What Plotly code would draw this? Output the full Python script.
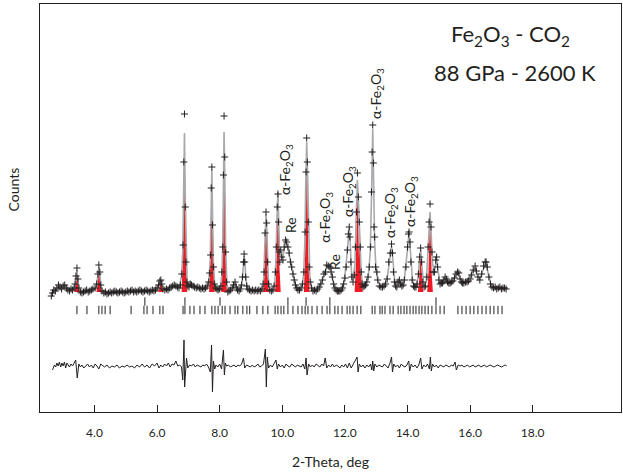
import plotly.graph_objects as go

# ---------------- data (2-theta in deg, intensity in arbitrary counts) ----------------
observed = [
    (2.62, 116), (2.66, 119), (2.70, 122), (2.75, 121), (2.80, 124), (2.85, 127), (2.90, 125), (2.95, 123),
    (3.00, 126), (3.05, 127), (3.10, 124), (3.15, 122), (3.20, 121), (3.25, 123), (3.30, 122), (3.35, 124),
    (3.38, 128), (3.41, 136), (3.44, 144), (3.47, 133), (3.50, 124), (3.55, 120), (3.60, 119), (3.65, 120),
    (3.70, 121), (3.75, 122), (3.80, 120), (3.85, 121), (3.90, 122), (3.95, 123),
    (4.02, 124), (4.07, 128), (4.11, 138), (4.14, 147), (4.17, 140), (4.20, 127), (4.24, 121), (4.30, 119),
    (4.35, 120), (4.40, 118), (4.45, 119), (4.50, 120), (4.55, 119), (4.60, 120), (4.65, 121), (4.70, 120),
    (4.75, 119), (4.80, 120), (4.85, 121), (4.90, 120), (4.95, 119),
    (5.00, 120), (5.05, 121), (5.10, 120), (5.15, 121), (5.20, 122), (5.25, 120), (5.30, 121), (5.35, 120),
    (5.40, 121), (5.45, 122), (5.50, 121), (5.55, 120), (5.60, 121), (5.65, 122), (5.70, 121), (5.75, 120),
    (5.80, 121), (5.85, 122), (5.90, 121), (5.95, 122),
    (6.00, 124), (6.05, 127), (6.09, 131), (6.12, 132), (6.15, 128), (6.19, 123), (6.25, 122), (6.30, 123),
    (6.35, 122), (6.40, 124), (6.45, 125), (6.50, 126), (6.55, 127), (6.60, 126), (6.65, 125), (6.70, 124),
    (6.75, 127),
    (6.79, 138), (6.83, 167), (6.855, 250), (6.875, 298), (6.90, 205), (6.925, 150), (6.95, 130), (6.98, 126),
    (7.02, 125), (7.06, 128), (7.10, 127), (7.15, 126), (7.20, 125), (7.25, 124), (7.30, 125), (7.35, 124),
    (7.40, 123), (7.45, 124), (7.50, 123), (7.55, 124), (7.60, 126), (7.65, 130),
    (7.68, 139), (7.71, 157), (7.73, 224), (7.75, 245), (7.77, 187), (7.80, 145), (7.83, 128), (7.87, 124),
    (7.91, 123), (7.95, 122), (8.00, 123), (8.04, 126),
    (8.07, 140), (8.10, 165), (8.12, 237), (8.14, 296), (8.16, 255), (8.19, 160), (8.22, 130), (8.26, 120),
    (8.30, 121), (8.35, 122), (8.40, 124), (8.44, 127), (8.49, 130), (8.53, 125), (8.57, 122), (8.62, 121),
    (8.66, 123), (8.70, 127),
    (8.73, 135), (8.76, 150), (8.78, 158), (8.80, 150), (8.83, 135), (8.86, 126), (8.90, 123), (8.95, 122),
    (9.00, 121), (9.05, 122), (9.10, 121), (9.15, 122), (9.20, 121), (9.25, 122), (9.30, 121), (9.35, 123),
    (9.39, 128),
    (9.42, 140), (9.45, 179), (9.48, 200), (9.50, 189), (9.53, 150), (9.56, 128), (9.60, 122), (9.65, 121),
    (9.70, 122), (9.74, 126), (9.78, 140),
    (9.81, 165), (9.84, 205), (9.86, 218), (9.88, 190), (9.90, 160), (9.92, 150), (9.95, 162), (9.98, 155),
    (10.02, 152), (10.06, 165), (10.10, 172), (10.14, 170), (10.18, 165), (10.22, 159), (10.26, 150),
    (10.30, 145), (10.34, 138), (10.38, 132), (10.42, 127), (10.46, 124), (10.50, 122), (10.55, 122),
    (10.60, 124), (10.65, 128),
    (10.69, 140), (10.73, 180), (10.76, 240), (10.78, 274), (10.80, 250), (10.83, 190), (10.86, 145),
    (10.89, 130), (10.93, 124), (10.98, 121), (11.03, 122), (11.08, 121), (11.13, 123), (11.18, 125),
    (11.23, 128), (11.28, 132), (11.33, 138),
    (11.38, 140), (11.42, 147), (11.47, 146), (11.52, 145), (11.56, 140), (11.60, 135), (11.64, 128),
    (11.68, 124), (11.72, 122), (11.76, 121), (11.80, 121), (11.84, 121), (11.88, 122), (11.92, 124),
    (11.96, 128), (12.00, 134), (12.04, 145), (12.08, 162),
    (12.11, 178), (12.14, 185), (12.16, 175), (12.19, 150), (12.22, 135), (12.26, 130), (12.30, 137),
    (12.34, 165), (12.37, 200), (12.40, 239), (12.43, 215), (12.46, 190), (12.49, 165), (12.52, 140),
    (12.55, 128), (12.58, 125), (12.62, 126), (12.66, 127), (12.70, 130), (12.74, 135), (12.78, 145),
    (12.82, 165), (12.85, 220),
    (12.87, 260), (12.89, 287), (12.91, 249), (12.93, 185), (12.95, 175), (12.98, 145), (13.02, 140),
    (13.05, 132), (13.10, 126), (13.15, 125), (13.20, 125), (13.25, 126), (13.30, 128), (13.35, 133),
    (13.40, 150),
    (13.45, 159), (13.49, 168), (13.52, 159), (13.55, 140), (13.58, 130), (13.62, 126), (13.66, 125),
    (13.70, 130), (13.74, 132), (13.78, 128), (13.82, 126), (13.86, 127), (13.90, 132), (13.95, 145),
    (14.00, 165), (14.03, 178), (14.05, 180), (14.08, 170), (14.11, 150), (14.15, 132), (14.19, 126),
    (14.23, 125), (14.27, 125), (14.31, 128), (14.35, 138),
    (14.39, 155), (14.42, 164), (14.45, 150), (14.49, 130), (14.53, 125), (14.57, 126), (14.62, 135),
    (14.66, 165), (14.69, 190), (14.72, 208), (14.75, 185), (14.78, 160), (14.82, 140),
    (14.86, 140), (14.90, 152), (14.93, 155), (14.96, 145), (15.00, 132), (15.04, 128), (15.08, 129),
    (15.12, 129), (15.16, 131), (15.20, 135), (15.24, 133), (15.28, 130), (15.32, 129), (15.36, 129),
    (15.40, 130), (15.45, 131), (15.50, 134), (15.55, 138),
    (15.60, 140), (15.64, 139), (15.68, 133), (15.72, 130), (15.76, 129), (15.80, 129), (15.85, 130),
    (15.90, 130), (15.95, 131), (16.00, 133), (16.05, 137), (16.10, 142), (16.16, 146), (16.20, 141),
    (16.25, 135), (16.31, 132), (16.37, 138), (16.43, 146), (16.48, 150), (16.51, 150), (16.55, 145),
    (16.60, 135), (16.65, 128), (16.70, 125), (16.75, 124), (16.80, 125), (16.85, 123), (16.90, 124),
    (16.95, 125), (17.00, 123), (17.05, 124), (17.10, 124), (17.15, 123),
]

calculated = [
    (2.62, 119), (2.75, 122), (2.90, 124), (3.05, 124), (3.20, 122), (3.33, 123), (3.38, 127), (3.41, 135),
    (3.44, 142), (3.47, 132), (3.51, 123), (3.60, 120), (3.80, 121), (3.95, 122), (4.03, 124), (4.08, 129),
    (4.11, 138), (4.14, 145), (4.17, 138), (4.21, 126), (4.26, 121), (4.50, 119), (5.00, 120), (5.50, 121),
    (5.95, 122), (6.04, 126), (6.09, 130), (6.12, 131), (6.15, 128), (6.19, 124), (6.30, 123), (6.50, 125),
    (6.70, 125), (6.78, 135), (6.82, 160), (6.85, 230), (6.875, 279), (6.90, 215), (6.93, 155), (6.96, 132),
    (7.02, 126), (7.20, 125), (7.45, 123), (7.60, 125), (7.66, 133), (7.70, 155), (7.73, 215), (7.75, 243),
    (7.77, 200), (7.80, 150), (7.84, 128), (7.95, 122), (8.03, 125), (8.07, 138), (8.10, 170), (8.12, 230),
    (8.14, 280), (8.16, 245), (8.19, 165), (8.23, 128), (8.30, 121), (8.42, 125), (8.49, 129), (8.56, 122),
    (8.68, 124), (8.72, 132), (8.75, 147), (8.78, 156), (8.81, 147), (8.84, 132), (8.90, 123), (9.20, 121),
    (9.37, 124), (9.41, 135), (9.44, 165), (9.48, 198), (9.51, 180), (9.55, 135), (9.60, 122), (9.70, 122),
    (9.76, 130), (9.80, 155), (9.83, 195), (9.86, 220), (9.89, 185), (9.92, 155), (9.96, 158), (10.02, 155),
    (10.10, 170), (10.18, 165), (10.26, 151), (10.34, 138), (10.42, 127), (10.52, 122), (10.62, 125),
    (10.68, 136), (10.72, 170), (10.75, 230), (10.78, 270), (10.81, 235), (10.84, 175), (10.88, 135),
    (10.95, 123), (11.10, 122), (11.25, 129), (11.35, 139), (11.45, 146), (11.55, 142), (11.65, 126),
    (11.75, 121), (11.88, 122), (11.98, 131), (12.06, 155), (12.11, 178), (12.14, 184), (12.17, 170),
    (12.21, 140), (12.26, 131), (12.32, 148), (12.36, 195), (12.40, 232), (12.44, 205), (12.48, 170),
    (12.52, 140), (12.57, 126), (12.66, 127), (12.75, 137), (12.81, 160), (12.85, 215), (12.89, 283),
    (12.92, 225), (12.95, 170), (12.99, 145), (13.05, 132), (13.15, 125), (13.28, 127), (13.36, 136),
    (13.44, 158), (13.49, 166), (13.54, 150), (13.60, 128), (13.70, 131), (13.80, 127), (13.90, 133),
    (13.98, 160), (14.05, 178), (14.10, 158), (14.16, 131), (14.26, 125), (14.34, 135), (14.38, 152),
    (14.42, 162), (14.46, 146), (14.52, 126), (14.60, 130), (14.65, 160), (14.68, 185), (14.72, 200),
    (14.75, 182), (14.80, 148), (14.86, 141), (14.93, 153), (14.98, 140), (15.05, 128), (15.18, 134),
    (15.30, 129), (15.45, 131), (15.55, 137), (15.62, 139), (15.70, 131), (15.85, 129), (15.98, 136),
    (16.08, 142), (16.16, 145), (16.24, 136), (16.31, 132), (16.40, 141), (16.50, 149), (16.58, 138),
    (16.68, 126), (16.85, 124), (17.17, 124),
]

# observed - calculated
difference = [
    (2.66, -4), (2.72, 1), (2.76, -1), (2.80, 3), (2.84, 0), (2.88, 4), (2.92, -1), (2.96, 3), (3.00, 0),
    (3.04, 4), (3.08, -2), (3.12, 3), (3.16, 1), (3.20, -1), (3.25, 2), (3.30, 0), (3.35, 3), (3.40, 6),
    (3.45, -12), (3.50, 2), (3.55, -1), (3.60, 1), (3.66, -2), (3.72, 0), (3.78, 2), (3.84, -1), (3.90, 1),
    (3.96, -2), (4.02, 2), (4.08, 0), (4.14, -3), (4.20, 2), (4.26, 0), (4.32, -1), (4.40, 1), (4.48, -2),
    (4.56, 0), (4.64, -1), (4.72, 1), (4.80, -2), (4.88, 0), (4.96, -1), (5.04, 1), (5.12, -1), (5.20, 0),
    (5.28, -2), (5.36, 1), (5.44, -1), (5.52, 2), (5.60, -1), (5.68, 1), (5.76, -2), (5.84, 2), (5.92, 0),
    (6.00, 3), (6.06, -2), (6.12, 1), (6.18, -1), (6.24, 2), (6.30, 0), (6.36, 3), (6.42, -1), (6.48, 2),
    (6.54, 1), (6.60, 5), (6.66, 0), (6.72, 1), (6.78, -1), (6.82, -14), (6.86, 26), (6.88, -21),
    (6.91, -10), (6.94, 8), (6.98, -2), (7.04, 1), (7.10, 0), (7.16, 2), (7.22, -1), (7.28, 1), (7.34, 0),
    (7.40, -1), (7.46, 1), (7.52, 0), (7.58, 2), (7.64, -1), (7.70, -6), (7.74, 21), (7.77, -26),
    (7.80, 5), (7.84, -3), (7.88, 1), (7.94, -1), (8.00, 2), (8.06, -3), (8.12, 16), (8.15, -9), (8.18, 3),
    (8.22, 0), (8.28, 1), (8.34, -1), (8.40, 0), (8.46, 1), (8.52, -1), (8.58, 1), (8.64, 0), (8.70, 2),
    (8.76, 8), (8.80, -2), (8.86, 1), (8.92, 0), (8.98, -1), (9.04, 1), (9.10, -1), (9.16, 0), (9.22, 2),
    (9.28, -1), (9.34, 0), (9.40, 2), (9.46, 17), (9.49, -21), (9.52, 9), (9.56, -2), (9.62, 1),
    (9.68, -1), (9.74, 2), (9.80, 6), (9.84, -3), (9.88, 2), (9.94, -1), (10.00, 1), (10.06, -2),
    (10.12, 2), (10.18, 0), (10.24, -1), (10.30, 2), (10.36, 0), (10.42, -1), (10.48, 1), (10.54, 0),
    (10.60, -1), (10.66, 2), (10.72, -3), (10.76, 8), (10.79, -9), (10.84, 2), (10.90, -1), (10.96, 1),
    (11.02, -1), (11.08, 2), (11.14, 0), (11.20, -1), (11.26, 2), (11.32, 0), (11.37, 8), (11.42, -2),
    (11.48, 1), (11.54, -1), (11.60, 2), (11.66, -1), (11.72, 1), (11.78, 0), (11.84, -2), (11.90, 1),
    (11.96, -1), (12.02, 2), (12.08, -2), (12.14, 3), (12.20, -2), (12.26, 1), (12.34, 6), (12.39, 9),
    (12.42, -6), (12.46, 2), (12.52, -1), (12.58, 1), (12.64, -2), (12.70, 1), (12.76, -1), (12.82, 2),
    (12.86, -4), (12.89, 5), (12.92, -5), (12.96, 2), (13.02, -1), (13.08, 1), (13.14, 0), (13.20, -1),
    (13.26, 2), (13.32, 0), (13.38, -2), (13.44, 3), (13.49, 9), (13.52, -6), (13.56, 2), (13.62, -1),
    (13.68, 1), (13.74, -2), (13.80, 2), (13.86, 0), (13.92, -1), (13.98, 1), (14.04, 5), (14.07, -5),
    (14.12, 2), (14.18, -1), (14.24, 1), (14.30, -2), (14.36, 1), (14.42, 8), (14.46, -3), (14.52, 1),
    (14.58, -1), (14.64, 2), (14.70, -3), (14.73, 9), (14.76, -5), (14.80, 2), (14.86, -1), (14.92, 1),
    (14.98, -2), (15.04, 1), (15.10, 0), (15.16, -1), (15.22, 1), (15.28, 0), (15.34, -1), (15.40, 1),
    (15.46, 0), (15.52, 4), (15.56, -4), (15.62, 1), (15.68, 0), (15.74, 1), (15.80, -1), (15.86, 0),
    (15.92, 1), (15.98, -1), (16.04, 0), (16.10, 1), (16.16, -1), (16.22, 0), (16.28, 1), (16.34, -1),
    (16.40, 0), (16.46, 1), (16.52, -1), (16.58, 0), (16.64, 1), (16.70, 0), (16.76, -1), (16.82, 0),
    (16.88, 1), (16.94, 0), (17.00, -1), (17.06, 0), (17.12, 1), (17.17, 0),
]

# CO2-phase reflections shown as red filled peaks: (2-theta, peak counts)
red_peaks = [
    (3.45, 142), (4.15, 145), (6.12, 131), (6.875, 279), (7.75, 243), (8.14, 280), (9.48, 198),
    (9.86, 218), (10.78, 270), (12.40, 232), (12.48, 180), (14.42, 162), (14.72, 200),
]

# reflection tick marks (2-theta)
re_ticks = [5.61, 6.89, 8.01, 10.18, 10.76, 11.52, 14.91]
phase_ticks = [
    3.44, 3.76, 4.14, 4.24, 4.34, 4.50, 5.17, 5.58, 5.68, 5.87, 6.09, 6.19, 6.83, 6.89, 7.05, 7.18,
    7.37, 7.53, 7.75, 7.85, 7.95, 8.08, 8.17, 8.33, 8.49, 8.58, 8.74, 8.87, 8.96, 9.19, 9.38, 9.54,
    9.77, 9.86, 9.96, 10.05, 10.18, 10.34, 10.50, 10.63, 10.73, 10.82, 10.95, 11.11, 11.27, 11.43,
    11.52, 11.68, 11.78, 11.91, 12.07, 12.16, 12.26, 12.39, 12.51, 12.87, 12.96, 13.12, 13.19, 13.28,
    13.44, 13.54, 13.70, 13.79, 13.89, 13.98, 14.08, 14.18, 14.27, 14.37, 14.46, 14.56, 14.66, 14.78,
    14.91, 15.04, 15.17, 15.61, 15.74, 15.87, 16.00, 16.12, 16.25, 16.38, 16.51, 16.64, 16.76, 16.89,
    17.02,
]

x_tick_vals = [4, 6, 8, 10, 12, 14, 16, 18]
x_tick_text = ["4.0", "6.0", "8.0", "10.0", "12.0", "14.0", "16.0", "18.0"]

FE = "α-Fe<sub>2</sub>O<sub>3</sub>"
peak_labels = [
    (FE, 10.09, 242), ("Re", 10.25, 187), (FE, 11.36, 195), ("Re", 11.65, 150),
    (FE, 12.10, 220), (FE, 12.99, 319), (FE, 13.44, 200), (FE, 14.08, 210),
]

# ---------------- styling constants ----------------
FONT = "Lato, 'Open Sans', sans-serif"
INK = "#231f20"
BASE = 120          # baseline of the red phase peaks
DIFF_OFFSET = 46    # vertical offset of the difference curve
RE_ROW = 110.5
PHASE_ROW = 102

fig = go.Figure()

# red phase peaks (filled profiles with a red-to-grey vertical gradient)
rx, ry = [], []
for pos, h in red_peaks:
    a = h - BASE
    rx += [pos - 0.09, pos - 0.05, pos - 0.03, pos, pos + 0.03, pos + 0.05, pos + 0.09, None]
    ry += [BASE, BASE + 0.25 * a, BASE + 0.6 * a, h, BASE + 0.6 * a, BASE + 0.25 * a, BASE, None]
fig.add_trace(go.Scatter(
    x=rx, y=ry, mode="none", fill="toself",
    fillgradient=dict(type="vertical",
                      colorscale=[[0, "#ed1c24"], [0.5, "#ed1c24"], [1, "#dcdddd"]],
                      start=BASE, stop=285),
    hoverinfo="skip", showlegend=False))

# calculated profile
fig.add_trace(go.Scatter(
    x=[p[0] for p in calculated], y=[p[1] for p in calculated], mode="lines",
    line=dict(color="#a7a9ac", width=1.6), showlegend=False))

# observed points
fig.add_trace(go.Scatter(
    x=[p[0] for p in observed], y=[p[1] for p in observed], mode="markers",
    marker=dict(symbol="cross-thin", size=5, line=dict(color=INK, width=1)),
    showlegend=False))

# reflection ticks
fig.add_trace(go.Scatter(
    x=re_ticks, y=[RE_ROW] * len(re_ticks), mode="markers",
    marker=dict(symbol="line-ns", size=6, line=dict(color=INK, width=1)), showlegend=False))
fig.add_trace(go.Scatter(
    x=phase_ticks, y=[PHASE_ROW] * len(phase_ticks), mode="markers",
    marker=dict(symbol="line-ns", size=6, line=dict(color=INK, width=1)), showlegend=False))

# difference curve
fig.add_trace(go.Scatter(
    x=[p[0] for p in difference], y=[p[1] + DIFF_OFFSET for p in difference], mode="lines",
    line=dict(color=INK, width=1), showlegend=False))

annotations = []
for text, x, y in peak_labels:
    annotations.append(dict(x=x, y=y, xref="x", yref="y", text=text, textangle=-90,
                            showarrow=False, xanchor="center", yanchor="middle",
                            font=dict(family=FONT, size=14, color=INK)))
annotations.append(dict(x=0.809, y=0.925, xref="paper", yref="paper",
                        text="Fe<sub>2</sub>O<sub>3</sub> - CO<sub>2</sub>",
                        showarrow=False, xanchor="center", yanchor="middle",
                        font=dict(family=FONT, size=22, color=INK)))
annotations.append(dict(x=0.818, y=0.831, xref="paper", yref="paper",
                        text="88 GPa - 2600 K",
                        showarrow=False, xanchor="center", yanchor="middle",
                        font=dict(family=FONT, size=22, color=INK)))
annotations.append(dict(x=-0.045, y=0.545, xref="paper", yref="paper",
                        text="Counts", textangle=-90,
                        showarrow=False, xanchor="center", yanchor="middle",
                        font=dict(family=FONT, size=14, color=INK)))
annotations.append(dict(x=0.5, y=-0.122, xref="paper", yref="paper",
                        text="2-Theta, deg",
                        showarrow=False, xanchor="center", yanchor="middle",
                        font=dict(family=FONT, size=14, color=INK)))

fig.update_layout(
    width=623, height=472,
    margin=dict(l=40, r=2, t=4, b=60),
    paper_bgcolor="white", plot_bgcolor="white",
    font=dict(family=FONT, color=INK),
    showlegend=False,
    annotations=annotations,
    xaxis=dict(range=[2.26, 20.82], showgrid=False, zeroline=False,
               showline=True, mirror=True, linecolor=INK, linewidth=1,
               ticks="inside", ticklen=7, tickwidth=1, tickcolor=INK,
               tickvals=x_tick_vals, ticktext=x_tick_text, ticklabelstandoff=10,
               tickfont=dict(family=FONT, size=12, color=INK)),
    yaxis=dict(range=[0, 408], showgrid=False, zeroline=False,
               showline=True, mirror=True, linecolor=INK, linewidth=1,
               showticklabels=False, ticks=""),
)

fig.write_html("out.html", config={"displayModeBar": False},
               post_script="document.body.style.margin='0';")
